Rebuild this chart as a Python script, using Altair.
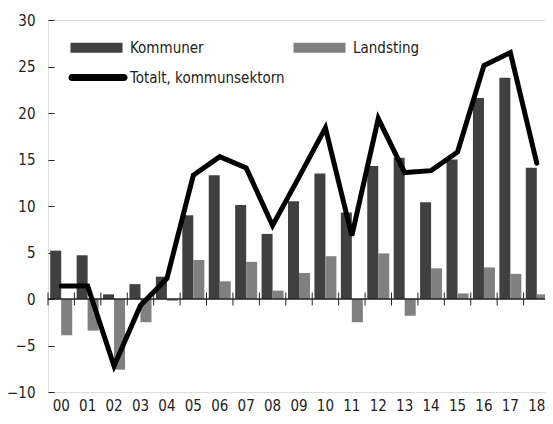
import altair as alt
import pandas as pd

years = ["00", "01", "02", "03", "04", "05", "06", "07", "08", "09",
         "10", "11", "12", "13", "14", "15", "16", "17", "18"]
kommuner = [5.2, 4.7, 0.5, 1.6, 2.4, 9.0, 13.3, 10.1, 7.0, 10.5,
            13.5, 9.3, 14.3, 15.2, 10.4, 15.0, 21.6, 23.8, 14.1]
landsting = [-3.9, -3.4, -7.6, -2.5, -0.2, 4.2, 1.9, 4.0, 0.9, 2.8,
             4.6, -2.5, 4.9, -1.8, 3.3, 0.6, 3.4, 2.7, 0.5]
totalt = [1.4, 1.4, -7.2, -0.7, 2.2, 13.3, 15.3, 14.1, 7.9, 13.1,
          18.4, 6.8, 19.4, 13.6, 13.8, 15.8, 25.1, 26.5, 14.6]
bar_series = ["Kommuner", "Landsting"]
line_series = ["Totalt, kommunsektorn"]
y_ticks = [-10, -5, 0, 5, 10, 15, 20, 25, 30]

bars = pd.DataFrame({
    "year": years * 2,
    "serie": [bar_series[0]] * len(years) + [bar_series[1]] * len(years),
    "value": kommuner + landsting,
})
line = pd.DataFrame({"year": years, "serie": line_series[0], "value": totalt})
zero = pd.DataFrame({"z": [0]})
ticks = pd.DataFrame({"year": years})

FONT = "DejaVu Sans Condensed"
FS = 15
INK = "#222222"

xscale = alt.Scale(domain=years, paddingInner=0, paddingOuter=0)
yscale = alt.Scale(domain=[-10, 30], nice=False, zero=False)

yaxis = alt.Axis(values=y_ticks, grid=False, domain=False, tickSize=6, offset=-6,
                 labelPadding=13, labelFontSize=FS, labelFont=FONT,
                 labelColor=INK, tickColor=INK, title=None)
xaxis = alt.Axis(title=None, ticks=False, domain=False, labelPadding=6,
                 labelAngle=0, labelFontSize=FS, labelFont=FONT, labelColor=INK)

bar_layer = alt.Chart(bars).mark_bar().encode(
    x=alt.X("year:N", scale=xscale, axis=xaxis, sort=years),
    xOffset=alt.XOffset("serie:N", sort=bar_series,
                        scale=alt.Scale(paddingOuter=0.2, paddingInner=0)),
    y=alt.Y("value:Q", scale=yscale, axis=yaxis),
    fill=alt.Fill("serie:N",
                  scale=alt.Scale(domain=bar_series, range=["#404040", "#808080"]),
                  legend=alt.Legend(title=None, orient="none", legendX=20, legendY=20,
                                    direction="horizontal", columns=2,
                                    symbolType="M-1,-1H9.4V1H-1Z", symbolSize=100,
                                    symbolStrokeWidth=0, labelOffset=47,
                                    columnPadding=87, padding=0,
                                    labelFont=FONT, labelFontSize=FS, labelColor=INK)),
)

zero_layer = alt.Chart(zero).mark_rule(color=INK, strokeWidth=1.5).encode(
    y=alt.Y("z:Q", scale=yscale)
)

tick_layer = alt.Chart(ticks).mark_rule(color=INK, strokeWidth=1).encode(
    x=alt.X("year:N", scale=xscale, sort=years, bandPosition=0),
    y=alt.datum(-0.7),
    y2=alt.datum(0.7),
)

line_layer = alt.Chart(line).mark_line(strokeWidth=5, strokeJoin="miter",
                                       strokeCap="round").encode(
    x=alt.X("year:N", scale=xscale, sort=years),
    y=alt.Y("value:Q", scale=yscale),
    stroke=alt.Stroke("serie:N", scale=alt.Scale(domain=line_series, range=["black"]),
                      legend=alt.Legend(title=None, orient="none", legendX=16.5, legendY=50,
                                        symbolType="M0,-0.7H10.4A0.7,0.7 0 0 1 10.4,0.7H0A0.7,0.7 0 0 1 0,-0.7Z",
                                        symbolSize=100, symbolFillColor="black",
                                        symbolStrokeWidth=0, labelOffset=50.5, padding=0,
                                        labelFont=FONT, labelFontSize=FS, labelColor=INK)),
)

chart = alt.layer(bar_layer, zero_layer, tick_layer, line_layer).properties(
    width=502, height=372,
    autosize=alt.AutoSizeParams(type="none"),
    padding={"left": 40, "top": 12, "right": -5, "bottom": 22},
).configure_view(stroke=INK, strokeWidth=1.5).configure(background="white")

chart.save("out.html", embed_options={"renderer": "svg", "actions": False})
